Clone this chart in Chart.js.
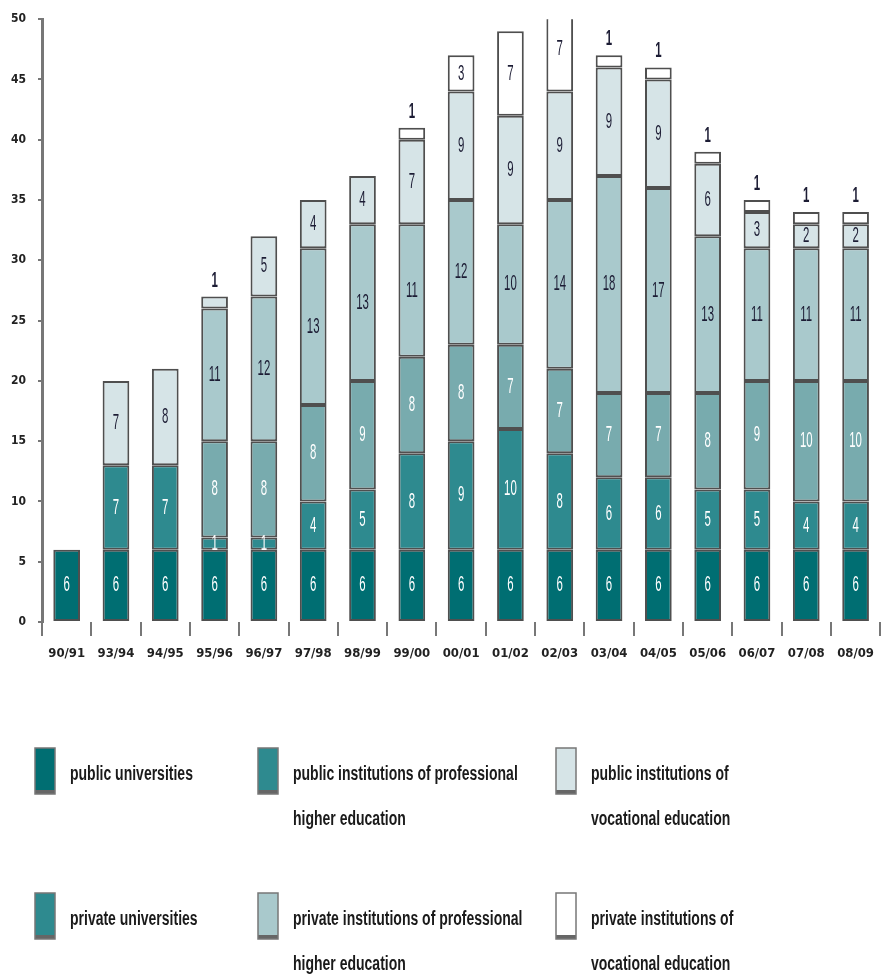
<!DOCTYPE html>
<html>
<head>
<meta charset="utf-8">
<title>Higher education institutions</title>
<script src="https://cdn.jsdelivr.net/npm/chart.js@4.4.0/dist/chart.umd.min.js"></script>
<style>
  html, body { margin: 0; padding: 0; background: #fff; }
  #wrap { width: 884px; height: 980px; overflow: hidden; }
</style>
</head>
<body>
<div id="wrap"><canvas id="chart" width="884" height="980"></canvas></div>
<script>
// ---- data ----
const years = ['90/91','93/94','94/95','95/96','96/97','97/98','98/99','99/00','00/01','01/02','02/03','03/04','04/05','05/06','06/07','07/08','08/09'];
const publicUniv  = [6, 6, 6, 6, 6, 6, 6, 6, 6, 6, 6, 6, 6, 6, 6, 6, 6];
const publicProf  = [null, 7, 7, 1, 1, 4, 5, 8, 9, 10, 8, 6, 6, 5, 5, 4, 4];
const privateUniv = [null, null, null, 8, 8, 8, 9, 8, 8, 7, 7, 7, 7, 8, 9, 10, 10];
const privateProf = [null, null, null, 11, 12, 13, 13, 11, 12, 10, 14, 18, 17, 13, 11, 11, 11];
const publicVoc   = [null, 7, 8, 1, 5, 4, 4, 7, 9, 9, 9, 9, 9, 6, 3, 2, 2];
const privateVoc  = [null, null, null, null, null, null, null, 1, 3, 7, 7, 1, 1, 1, 1, 1, 1];
const yTicks = [0, 5, 10, 15, 20, 25, 30, 35, 40, 45, 50];

// legend texts (two lines where the reference wraps)
const legendText = [
  ['public universities'],
  ['public institutions of professional', 'higher education'],
  ['public institutions of', 'vocational education'],
  ['private universities'],
  ['private institutions of professional', 'higher education'],
  ['private institutions of', 'vocational education']
];

const COLORS = ['#006e72', '#2e8a8f', '#78abae', '#a9c9cc', '#d6e4e7', '#ffffff'];
// swatch colours as printed in the legend of the reference
const SWATCH = ['#006e72', '#2e8a8f', '#d6e4e7', '#2e8a8f', '#a9c9cc', '#ffffff'];
const NARROW = "'DejaVu Sans Condensed', 'Liberation Sans Narrow', 'Liberation Sans', sans-serif";

// stacking order bottom -> top
const stack = [
  { label: legendText[0].join(' '), data: publicUniv,  color: COLORS[0] },
  { label: legendText[1].join(' '), data: publicProf,  color: COLORS[1] },
  { label: legendText[3].join(' '), data: privateUniv, color: COLORS[2] },
  { label: legendText[4].join(' '), data: privateProf, color: COLORS[3] },
  { label: legendText[2].join(' '), data: publicVoc,   color: COLORS[4] },
  { label: legendText[5].join(' '), data: privateVoc,  color: COLORS[5] }
];

function narrowText(ctx, txt, x, y, font, sx, align){
  ctx.save();
  ctx.translate(x, y);
  ctx.scale(sx, 1);
  ctx.font = font;
  ctx.textAlign = align || 'center';
  ctx.textBaseline = 'middle';
  ctx.fillText(txt, 0, 0);
  ctx.restore();
}

// ---- numbers inside / above the segments ----
const valueLabels = {
  id: 'valueLabels',
  afterDatasetsDraw(chart){
    const ctx = chart.ctx;
    const n = chart.data.labels.length;
    for (let i = 0; i < n; i++) {
      let top = -1;
      chart.data.datasets.forEach((ds, d) => { if (ds.data[i] != null) top = d; });
      chart.data.datasets.forEach((ds, d) => {
        const v = ds.data[i];
        if (v == null) return;
        const bar = chart.getDatasetMeta(d).data[i];
        let y = (bar.y + bar.base) / 2;
        let font = "22px 'Liberation Sans', sans-serif";
        if (v === 1 && d === top && d >= 4) {
          y = bar.y - 16;
          font = "bold 22px 'Liberation Sans', sans-serif";
        }
        ctx.fillStyle = d < 3 ? '#ffffff' : '#1c1c34';
        narrowText(ctx, String(v), bar.x, y, font, 0.52);
      });
    }
  }
};

// ---- legend drawn under the plot, 3 columns x 2 rows ----
const gridLegend = {
  id: 'gridLegend',
  afterDraw(chart){
    const ctx = chart.ctx;
    const colX = [35, 258, 556];
    const rowY = [748, 893];
    legendText.forEach((lines, k) => {
      const x = colX[k % 3], y = rowY[Math.floor(k / 3)];
      ctx.fillStyle = SWATCH[k];
      ctx.fillRect(x, y, 20, 46);
      ctx.fillStyle = '#666';
      ctx.fillRect(x, y + 42, 20, 4);
      ctx.strokeStyle = '#777';
      ctx.lineWidth = 1.5;
      ctx.strokeRect(x, y, 20, 46);
      ctx.fillStyle = '#1a1a1a';
      lines.forEach((t, j) => {
        narrowText(ctx, t, x + 35, y + 26 + j * 45, "bold 20px 'Liberation Sans', sans-serif", 0.7, 'left');
      });
    });
  }
};

new Chart(document.getElementById('chart'), {
  type: 'bar',
  data: {
    labels: years,
    datasets: stack.map(s => ({
      label: s.label,
      data: s.data,
      backgroundColor: s.color,
      borderColor: '#4f4f4f',
      borderWidth: 2,
      borderSkipped: false,
      barPercentage: 0.95,
      categoryPercentage: 0.57
    }))
  },
  options: {
    responsive: false,
    animation: false,
    // right padding is negative: the last category slot runs a little past the frame, as in the reference
    layout: { padding: { top: 18, bottom: 300, left: 2, right: -7 } },
    plugins: {
      legend: { display: false },
      tooltip: { enabled: false }
    },
    scales: {
      x: {
        stacked: true,
        afterFit(scale){ scale.height = 58; },
        border: { display: false },
        grid: { drawOnChartArea: false, drawTicks: true, tickLength: 14, color: '#777', lineWidth: 2 },
        ticks: {
          padding: 10,
          color: '#222',
          maxRotation: 0,
          font: { family: NARROW, size: 13, weight: 'bold' }
        }
      },
      y: {
        stacked: true,
        min: 0,
        max: 50,
        afterFit(scale){ scale.width = 40; },
        afterBuildTicks(scale){ scale.ticks = yTicks.map(v => ({ value: v })); },
        border: { display: true, color: '#777', width: 3 },
        grid: { drawOnChartArea: false, tickLength: 4, color: '#777', lineWidth: 2 },
        ticks: {
          padding: 12,
          color: '#222',
          font: { family: NARROW, size: 12, weight: 'bold' }
        }
      }
    }
  },
  plugins: [valueLabels, gridLegend]
});
</script>
</body>
</html>
